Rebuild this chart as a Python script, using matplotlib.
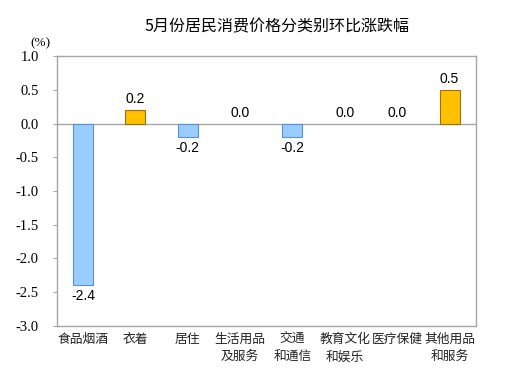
import matplotlib
matplotlib.use("agg")
import matplotlib.pyplot as plt
import numpy as np

plt.rcParams["font.family"] = ["Noto Sans CJK SC", "DejaVu Sans"]

title = "5月份居民消费价格分类别环比涨跌幅"
categories = ["食品烟酒", "衣着", "居住", "生活用品\n及服务", "交通\n和通信",
              "教育文化\n和娱乐", "医疗保健", "其他用品\n和服务"]
values = [-2.4, 0.2, -0.2, 0.0, -0.2, 0.0, 0.0, 0.5]
yticks = [1.0, 0.5, 0.0, -0.5, -1.0, -1.5, -2.0, -2.5, -3.0]

fig = plt.figure(figsize=(5.16, 3.82), dpi=100)
ax = fig.add_axes([0.110, 0.147, 0.812, 0.706])

x = np.arange(len(categories))
colors = ["#FFC000" if v > 0 else "#99CCFF" for v in values]
edges = ["#A0700A" if v > 0 else "#5A8FD0" for v in values]
lws = [0.8 if v != 0 else 0 for v in values]
ax.bar(x, values, width=0.38, color=colors, edgecolor=edges, linewidth=lws, zorder=3)
ax.axhline(0, color="#A6A6A6", linewidth=1.0, zorder=2)

for xi, v in zip(x, values):
    if v < 0:
        ax.text(xi, v - 0.06, f"{v:.1f}", ha="center", va="top", fontsize=10,
                family="Liberation Sans")
    else:
        ax.text(xi, v + 0.06, f"{v:.1f}", ha="center", va="bottom", fontsize=10,
                family="Liberation Sans")

ax.set_xlim(-0.5, len(categories) - 0.5)
ax.set_ylim(-3.0, 1.0)
ax.set_yticks(yticks)
ax.set_yticklabels([f"{t:.1f}" for t in yticks])
ax.tick_params(axis="y", labelfontfamily="Liberation Serif", labelsize=10.5,
               length=3, color="#A6A6A6", pad=10)
ax.set_xticks(x)
ax.set_xticklabels(categories, fontsize=9.2, linespacing=1.45, color="#222222")
ax.tick_params(axis="x", length=0, pad=5)
for s in ax.spines.values():
    s.set_color("#A6A6A6")
    s.set_linewidth(1.0)

fig.text(0.537, 0.93, title, ha="center", va="center", fontsize=11.5)
fig.text(0.058, 0.888, "(%)", ha="left", va="center", fontsize=9.5,
         family="Liberation Serif")

fig.savefig("out.png", dpi=100)
